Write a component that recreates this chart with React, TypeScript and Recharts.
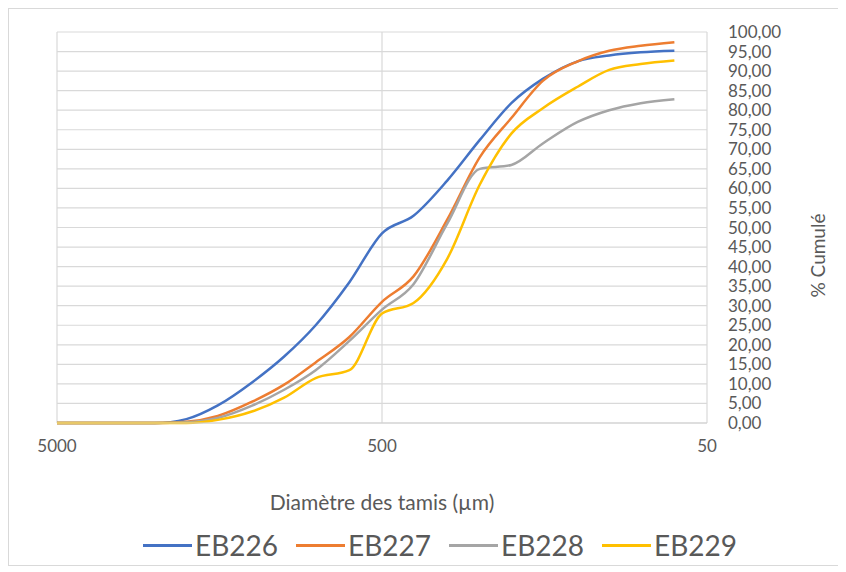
import { LineChart, Line, XAxis, YAxis, CartesianGrid, Legend } from 'recharts'

// sieve openings (µm), coarse to fine
const sieves = [5000, 4000, 3150, 2500, 2000, 1600, 1250, 1000, 800, 630, 500, 400, 315, 250, 200, 160, 125, 100, 80, 63]

const eb226 = [0, 0, 0, 0, 1, 4.5, 10.5, 17, 25, 36, 48.5, 53, 62, 72.4, 81.8, 88, 92.5, 94, 94.8, 95.2]
const eb227 = [0, 0, 0, 0, 0.3, 1.8, 5.5, 9.8, 15.5, 22, 31, 37.5, 52, 68, 78, 87.5, 92.5, 95.2, 96.5, 97.4]
const eb228 = [0, 0, 0, 0, 0.2, 1.3, 4.5, 8.5, 13.5, 21, 29, 35.5, 51, 65, 66, 71.5, 77, 80, 81.8, 82.8]
const eb229 = [0, 0, 0, 0, 0, 0.8, 3, 6.5, 11.5, 13.5, 28, 30.7, 42, 61, 74, 80.5, 86, 90.3, 91.8, 92.7]

const xTicks = [5000, 500, 50]
const yTicks = [0, 5, 10, 15, 20, 25, 30, 35, 40, 45, 50, 55, 60, 65, 70, 75, 80, 85, 90, 95, 100]

const series = [
  { key: 'EB226', values: eb226, color: '#4472C4' },
  { key: 'EB227', values: eb227, color: '#ED7D31' },
  { key: 'EB228', values: eb228, color: '#A5A5A5' },
  { key: 'EB229', values: eb229, color: '#FFC000' },
]

const data = sieves.map((d, i) => {
  const row: Record<string, number> = { d }
  series.forEach((s) => (row[s.key] = s.values[i]))
  return row
})

const FONT = 'Lato, "Open Sans", sans-serif'
const TEXT = '#595959'

function LegendContent() {
  return (
    <div style={{ display: 'flex', alignItems: 'center', fontFamily: FONT }}>
      {series.map((s) => (
        <div key={s.key} style={{ display: 'flex', alignItems: 'center', marginRight: 18 }}>
          <div style={{ width: 49, height: 3, background: s.color, marginRight: 3 }} />
          <span style={{ fontSize: 28, color: TEXT, lineHeight: '32px' }}>{s.key}</span>
        </div>
      ))}
    </div>
  )
}

export default function App() {
  return (
    <div style={{ width: 830, height: 556, border: '1px solid #d9d9d9', background: '#fff' }}>
      <LineChart width={830} height={556} data={data} margin={{ top: 23, right: 12, bottom: 52, left: 48 }}>
        <CartesianGrid stroke="#d9d9d9" strokeWidth={1.2} />
        <XAxis
          dataKey="d"
          type="number"
          scale="log"
          domain={[50, 5000]}
          reversed
          ticks={xTicks}
          interval={0}
          tickLine={false}
          axisLine={{ stroke: '#d0d0d0' }}
          tickMargin={11}
          height={90}
          tick={{ fontSize: 17, fill: TEXT, fontFamily: FONT }}
          label={{
            value: 'Diamètre des tamis (µm)',
            position: 'insideBottom',
            offset: 3,
            style: { fontSize: 21, fill: TEXT, fontFamily: FONT },
          }}
        />
        <YAxis
          orientation="right"
          domain={[0, 100]}
          ticks={yTicks}
          interval={0}
          width={120}
          tickLine={false}
          axisLine={false}
          tickMargin={15}
          tick={{ fontSize: 17, fill: TEXT, fontFamily: FONT, textAnchor: 'start' }}
          tickFormatter={(v: number) => v.toFixed(2).replace('.', ',')}
          label={{
            value: '% Cumulé',
            angle: -90,
            position: 'center',
            dx: 51,
            dy: 28,
            style: { fontSize: 19, fill: TEXT, fontFamily: FONT, textAnchor: 'middle' },
          }}
        />
        <Legend
          layout="horizontal"
          verticalAlign="middle"
          align="center"
          content={<LegendContent />}
          wrapperStyle={{ top: 520, left: 134, width: 640 }}
        />
        {series.map((s) => (
          <Line
            key={s.key}
            dataKey={s.key}
            type="monotone"
            stroke={s.color}
            strokeWidth={2.5}
            dot={false}
            activeDot={false}
            isAnimationActive={false}
          />
        ))}
      </LineChart>
    </div>
  )
}
